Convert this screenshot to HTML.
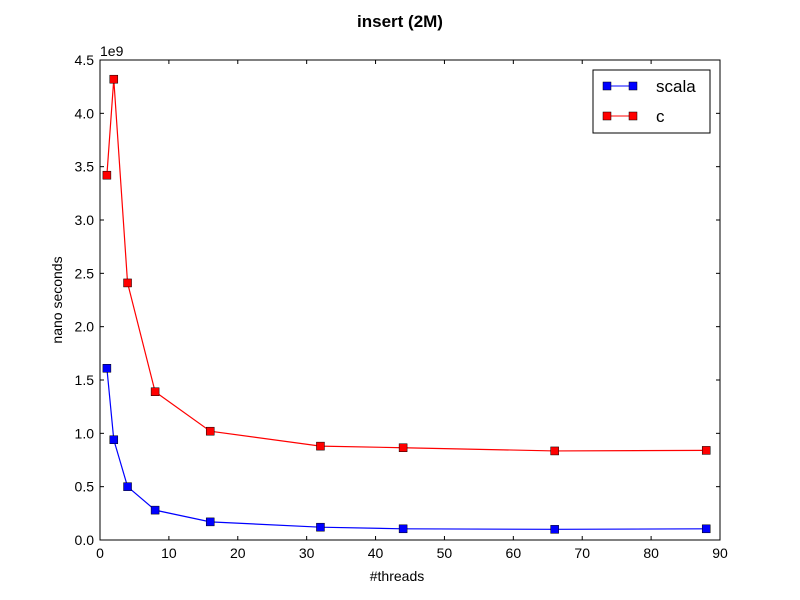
<!DOCTYPE html>
<html><head><meta charset="utf-8"><style>body{margin:0;background:#fff}svg{display:block;font-family:"Liberation Sans",sans-serif}</style></head>
<body>
<svg id="chart" width="800" height="600" viewBox="0 0 800 600">
<rect width="800" height="600" fill="#fff"/>
<text x="400" y="27" text-anchor="middle" font-size="17" font-weight="bold">insert (2M)</text>
<g id="axes"></g>
<g id="series"></g>
<rect x="100" y="60" width="620" height="480" fill="none" stroke="#000" stroke-width="1"/>
<text x="397" y="581" text-anchor="middle" font-size="14">#threads</text>
<text transform="translate(62,300) rotate(-90)" text-anchor="middle" font-size="14">nano seconds</text>
<text x="100" y="56" font-size="14">1e9</text>
<g>
<rect x="593" y="70" width="117" height="63" fill="#fff" stroke="#000"/>
<line x1="603" y1="86" x2="637" y2="86" stroke="#0000ff"/>
<rect x="603" y="82" width="8" height="8" fill="#0000ff" stroke="#000" stroke-width="0.5"/>
<rect x="629" y="82" width="8" height="8" fill="#0000ff" stroke="#000" stroke-width="0.5"/>
<text x="656" y="92" font-size="17">scala</text>
<line x1="603" y1="116" x2="637" y2="116" stroke="#ff0000"/>
<rect x="603" y="112" width="8" height="8" fill="#ff0000" stroke="#000" stroke-width="0.5"/>
<rect x="629" y="112" width="8" height="8" fill="#ff0000" stroke="#000" stroke-width="0.5"/>
<text x="656" y="122" font-size="17">c</text>
</g>
</svg>
<script>
const threads = [1, 2, 4, 8, 16, 32, 44, 66, 88];
const scalaValues = [1.61, 0.94, 0.50, 0.28, 0.17, 0.12, 0.105, 0.10, 0.105];
const cValues = [3.42, 4.32, 2.41, 1.39, 1.02, 0.88, 0.865, 0.835, 0.84];
const xTicks = [0, 10, 20, 30, 40, 50, 60, 70, 80, 90];
const yTicks = [0, 0.5, 1.0, 1.5, 2.0, 2.5, 3.0, 3.5, 4.0, 4.5];
const NS = "http://www.w3.org/2000/svg";
const L = 100, R = 720, T = 60, B = 540;
const xs = v => L + (v - 0) / 90 * (R - L);
const ys = v => B - v / 4.5 * (B - T);
const axes = document.getElementById('axes');
function mk(tag, attrs, parent) { const e = document.createElementNS(NS, tag); for (const k in attrs) e.setAttribute(k, attrs[k]); parent.appendChild(e); return e; }
xTicks.forEach(t => {
  const x = xs(t);
  const a = mk('line', {x1: x, y1: B, x2: x, y2: B - 4, stroke: '#000'}, axes);
  
  
  const b = mk('line', {x1: x, y1: T, x2: x, y2: T + 4, stroke: '#000'}, axes);
  
  
  const tx = mk('text', {x: x, y: B + 18, 'text-anchor': 'middle', 'font-size': 14}, axes);
  tx.textContent = t;
  
  
});
yTicks.forEach(t => {
  const y = ys(t);
  const a = mk('line', {x1: L, y1: y, x2: L + 4, y2: y, stroke: '#000'}, axes);
  
  
  const b = mk('line', {x1: R, y1: y, x2: R - 4, y2: y, stroke: '#000'}, axes);
  
  
  const tx = mk('text', {x: L - 6, y: y + 5, 'text-anchor': 'end', 'font-size': 14}, axes);
  tx.textContent = t.toFixed(1);
  
  
});
const sg = document.getElementById('series');
function draw(vals, color, name) {
  const pts = threads.map((t, i) => xs(t) + ',' + ys(vals[i])).join(' ');
  const pl = mk('polyline', {points: pts, fill: 'none', stroke: color, 'stroke-width': 1.2}, sg);
  
  
  threads.forEach((t, i) => {
    const r = mk('rect', {x: xs(t) - 4, y: ys(vals[i]) - 4, width: 8, height: 8, fill: color, stroke: '#000', 'stroke-width': 0.5}, sg);
    
    
  });
}
draw(scalaValues, '#0000ff', 'scala');
draw(cValues, '#ff0000', 'c');
</script>
</body></html>
